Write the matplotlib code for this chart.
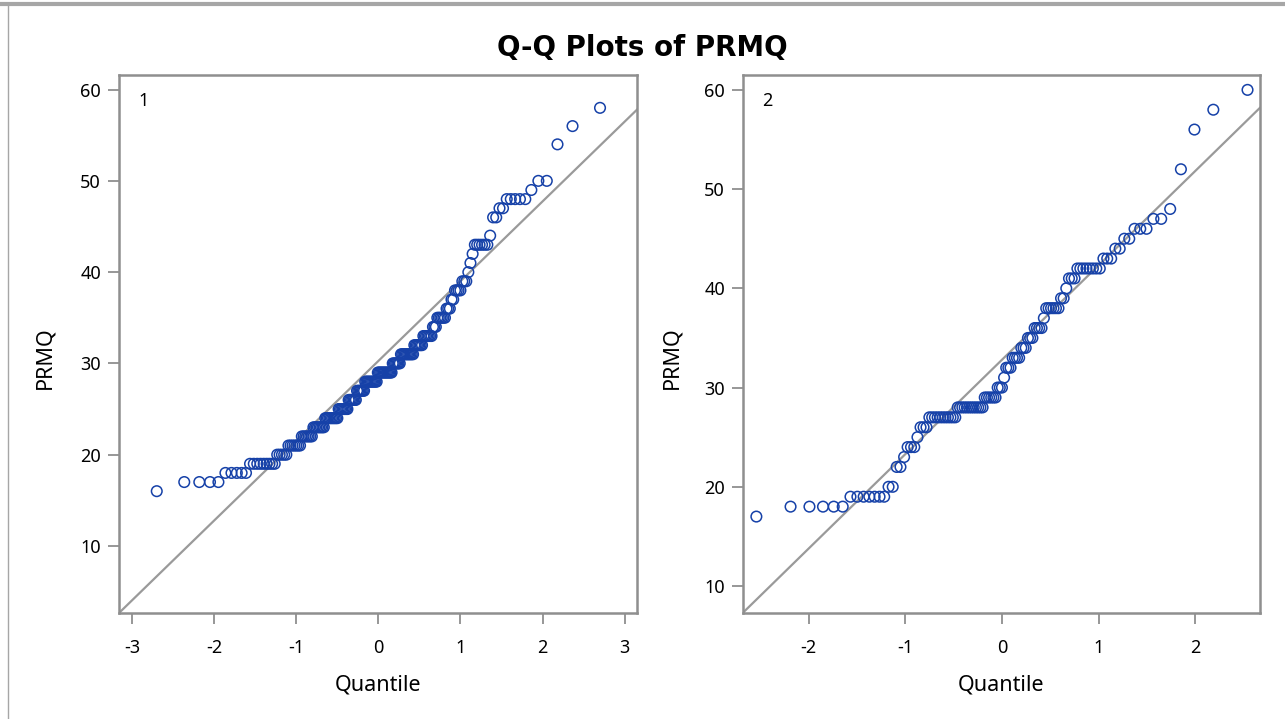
import numpy as np
import matplotlib
matplotlib.use("Agg")
import matplotlib.pyplot as plt
from statistics import NormalDist

# --------------------------------------------------
# Data: PRMQ score levels and how many subjects have each
# --------------------------------------------------
values_1 = [16, 17, 18, 19, 20, 21, 22, 23, 24, 25, 26, 27, 28, 29, 30, 31, 32, 33, 34,
            35, 36, 37, 38, 39, 40, 41, 42, 43, 44, 46, 47, 48, 49, 50, 54, 56, 58]
counts_1 = [1, 4, 5, 9, 5, 7, 7, 8, 10, 8, 7, 7, 11, 13, 7, 11, 7, 7, 3,
            6, 3, 2, 4, 3, 1, 1, 1, 6, 1, 2, 2, 5, 1, 2, 1, 1, 1]

values_2 = [17, 18, 19, 20, 22, 23, 24, 25, 26, 27, 28, 29, 30, 31, 32, 33, 34, 35,
            36, 37, 38, 39, 40, 41, 42, 43, 44, 45, 46, 47, 48, 52, 56, 58, 60]
counts_2 = [1, 5, 7, 2, 2, 1, 3, 1, 3, 11, 12, 6, 3, 1, 3, 4, 3, 3,
            4, 1, 6, 2, 1, 3, 8, 3, 2, 2, 3, 2, 1, 1, 1, 1, 1]

# estimated normal reference line (mu, sigma) per group
ref_mu = [30.27, 32.8]
ref_sigma = [8.74, 9.51]

panel_labels = ["1", "2"]
xlims = [(-3.16, 3.15), (-2.68, 2.67)]
ylims = [(2.65, 61.6), (7.28, 61.5)]
xticks = [[-3, -2, -1, 0, 1, 2, 3], [-2, -1, 0, 1, 2]]
yticks = [[10, 20, 30, 40, 50, 60], [10, 20, 30, 40, 50, 60]]

# --------------------------------------------------
# Style
# --------------------------------------------------
plt.rcParams["font.family"] = ["Noto Sans", "DejaVu Sans"]
grey = "#8f8f8f"
blue = "#1641a8"


def normal_quantiles(n):
    # Blom plotting positions, as used for normal Q-Q plots
    nd = NormalDist()
    return np.array([nd.inv_cdf((i - 0.375) / (n + 0.25)) for i in range(1, n + 1)])


fig = plt.figure(figsize=(12.85, 7.19), dpi=100)

# outer frame lines (top and left)
fig.add_artist(plt.Line2D([0, 1], [0.9945, 0.9945], color="#a6a6a6", lw=3.0))
fig.add_artist(plt.Line2D([0.0066, 0.0066], [0, 0.996], color="#a6a6a6", lw=1.0))

fig.text(0.4995, 0.933, "Q-Q Plots of PRMQ", ha="center", va="center",
         fontsize=20, fontweight="bold", family="DejaVu Sans")

rects = [[0.0926, 0.1474, 0.4031, 0.7483], [0.5782, 0.1474, 0.4023, 0.7483]]
ylabel_x = [-0.143, -0.137]
groups = [(values_1, counts_1), (values_2, counts_2)]

for k in range(2):
    ax = fig.add_axes(rects[k])
    vals, cnts = groups[k]
    y = np.repeat(vals, cnts).astype(float)
    y.sort()
    q = normal_quantiles(len(y))

    xl = np.array(xlims[k])
    ax.plot(xl, ref_mu[k] + ref_sigma[k] * xl, color="#9a9a9a", lw=1.6, zorder=1)
    ax.scatter(q, y, s=58, facecolors="none", edgecolors=blue, linewidths=1.1, zorder=2)

    ax.set_xlim(*xlims[k])
    ax.set_ylim(*ylims[k])
    ax.set_xticks(xticks[k])
    ax.set_yticks(yticks[k])
    ax.set_xticklabels([str(t) for t in xticks[k]])
    for s in ax.spines.values():
        s.set_color(grey)
        s.set_linewidth(1.8)
    ax.tick_params(direction="out", length=8, width=1.3, color=grey, labelsize=13)
    ax.tick_params(axis="x", pad=11)
    ax.tick_params(axis="y", pad=5)
    ax.set_xlabel("Quantile", fontsize=15.5)
    ax.set_ylabel("PRMQ", fontsize=15.5)
    ax.xaxis.set_label_coords(0.5, -0.134)
    ax.yaxis.set_label_coords(ylabel_x[k], 0.475)
    ax.xaxis.label.set_va("center")
    ax.yaxis.label.set_va("center")
    ax.text(0.037, 0.968, panel_labels[k], transform=ax.transAxes,
            ha="left", va="top", fontsize=13)

fig.savefig("out.png", dpi=100)
